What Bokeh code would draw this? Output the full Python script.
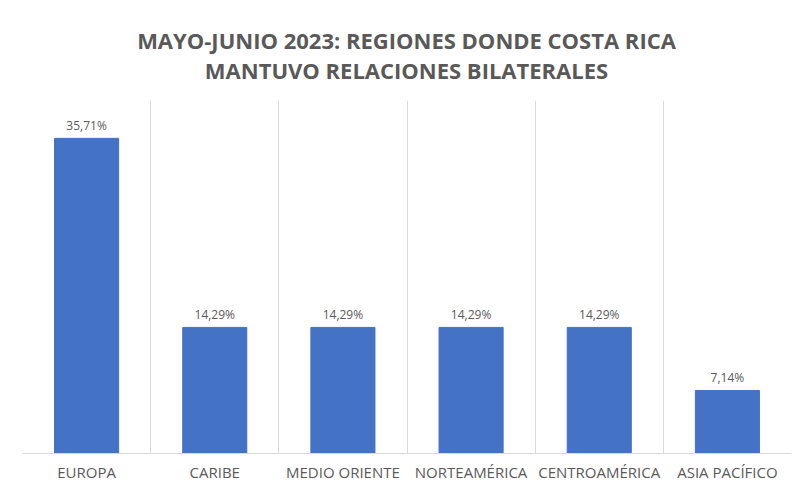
from bokeh.plotting import figure
from bokeh.models import ColumnDataSource, FixedTicker, Range1d, Div
from bokeh.layouts import column
from bokeh.embed import file_html
from bokeh.resources import INLINE
from bokeh.core.properties import value

title_lines = ["MAYO-JUNIO 2023: REGIONES DONDE COSTA RICA", "MANTUVO RELACIONES BILATERALES"]
categories = ["EUROPA", "CARIBE", "MEDIO ORIENTE", "NORTEAMÉRICA", "CENTROAMÉRICA", "ASIA PACÍFICO"]
values = [35.71, 14.29, 14.29, 14.29, 14.29, 7.14]
labels = ["35,71%", "14,29%", "14,29%", "14,29%", "14,29%", "7,14%"]

n = len(categories)
xs = [i + 0.5 for i in range(n)]
src = ColumnDataSource(dict(x=xs, top=values, lab=labels))

W = 793
TITLE_H = 85
BL, BR, BT, BB = 22, 2, 15, 32

title_html = (
    f'<div style="width:{W - BL - BR}px;margin-left:{BL}px;padding-top:25px;'
    'text-align:center;font-family:\'Open Sans\';font-weight:bold;font-size:22px;'
    'line-height:30px;color:#595959;white-space:nowrap;">'
    + "<br>".join(title_lines) + "</div>"
)
title_div = Div(text=title_html, width=W, height=TITLE_H, margin=(0, 0, 0, 0))

p = figure(width=W, height=485 - TITLE_H, output_backend="svg", toolbar_location=None,
           x_range=Range1d(0, n), y_range=Range1d(0, 40),
           min_border_left=BL, min_border_right=BR, min_border_top=BT, min_border_bottom=BB)
p.title.visible = False

p.vbar(x="x", top="top", width=0.5, source=src, color="#4472C4")
p.text(x="x", y="top", text="lab", source=src, text_align="center", text_baseline="bottom",
       y_offset=-4, text_font=value("Open Sans"), text_font_size="12px", text_color="#595959")

p.yaxis.visible = False
p.ygrid.visible = False
p.xgrid.ticker = FixedTicker(ticks=list(range(n + 1)))
p.xgrid.grid_line_color = "#d9d9d9"
p.xgrid.grid_line_width = 1

p.xaxis.ticker = FixedTicker(ticks=xs)
p.xaxis.major_label_overrides = {x: c for x, c in zip(xs, categories)}
p.xaxis.major_tick_line_color = None
p.xaxis.major_tick_out = 0
p.xaxis.major_tick_in = 0
p.xaxis.minor_tick_line_color = None
p.xaxis.axis_line_color = "#d9d9d9"
p.xaxis.major_label_text_font = "Open Sans"
p.xaxis.major_label_text_font_size = "15px"
p.xaxis.major_label_text_color = "#595959"
p.xaxis.major_label_standoff = 8
p.outline_line_color = None

layout = column(title_div, p, spacing=0)
open("out.html", "w").write(file_html(layout, INLINE))
